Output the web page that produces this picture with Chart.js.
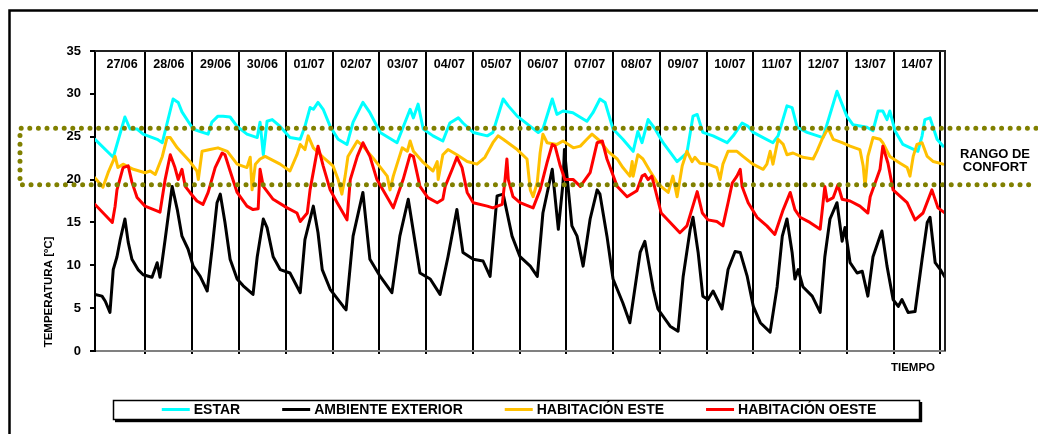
<!DOCTYPE html>
<html><head><meta charset="utf-8">
<script src="https://cdn.jsdelivr.net/npm/chart.js@4/dist/chart.umd.min.js"></script>
<style>html,body{margin:0;padding:0;background:#fff;overflow:hidden}</style>
</head><body>
<canvas id="c" width="1038" height="434"></canvas>
<script>
const DAY_LABELS = ['27/06','28/06','29/06','30/06','01/07','02/07','03/07','04/07','05/07','06/07','07/07','08/07','09/07','10/07','11/07','12/07','13/07','14/07'];
const Y_MIN = 0, Y_MAX = 35, Y_STEP = 5;
const T_MIN = -0.08, T_MAX = 18.1;
const COMFORT_MAX = 26, COMFORT_MIN = 19.4;
const COMFORT_LABEL = ['RANGO DE', 'CONFORT'];
const Y_TITLE = 'TEMPERATURA [ºC]';
const X_TITLE = 'TIEMPO';

const SERIES_NAMES = ['ESTAR', 'AMBIENTE EXTERIOR', 'HABITACIÓN ESTE', 'HABITACIÓN OESTE'];

const ESTAR_T = [-0.08,0.31,0.56,0.67,0.82,0.95,1.25,1.36,1.59,1.70,1.78,1.91,2.02,2.17,2.34,2.42,2.55,2.66,2.81,2.96,3.17,3.39,3.45,3.52,3.60,3.71,3.88,4.09,4.31,4.41,4.52,4.59,4.69,4.80,4.95,5.12,5.31,5.44,5.65,5.80,6.02,6.38,6.66,6.73,6.83,6.94,7.15,7.36,7.51,7.69,7.79,8.01,8.31,8.43,8.65,8.76,8.95,9.23,9.40,9.50,9.70,9.80,9.93,10.14,10.44,10.57,10.72,10.83,11.00,11.21,11.43,11.53,11.62,11.75,11.90,12.07,12.37,12.58,12.71,12.80,12.92,13.14,13.44,13.57,13.76,13.89,14.00,14.21,14.42,14.53,14.72,14.83,14.94,15.15,15.49,15.79,16.00,16.13,16.43,16.56,16.67,16.77,16.86,16.92,17.03,17.20,17.52,17.61,17.67,17.78,17.93,18.06];
const ESTAR_V = [24.7,22.6,27.3,25.9,25.9,25.3,24.7,24.3,29.4,29.0,27.9,26.8,25.9,25.6,25.3,26.7,27.4,27.4,27.3,26.2,25.3,24.9,26.7,22.9,26.8,27.0,26.2,24.9,24.7,26.2,28.4,28.2,29.0,28.2,26.2,24.7,24.1,26.7,29.0,27.8,25.5,24.3,28.2,27.2,28.8,25.9,25.1,24.5,26.6,27.2,26.6,25.5,25.1,25.5,29.4,28.6,27.4,26.2,25.5,25.9,29.4,27.6,28.0,27.8,26.8,27.8,29.4,29.0,25.9,24.7,23.3,25.6,24.3,27.0,25.9,24.3,22.1,23.1,27.4,27.6,25.5,25.1,24.3,25.1,26.6,26.2,25.5,24.9,24.3,25.1,28.6,28.4,26.1,25.5,24.9,30.3,27.4,26.4,26.1,25.7,28.0,28.0,27.0,28.0,25.7,24.1,23.3,25.1,27.0,27.2,24.7,23.9];

const EXTERIOR_T = [-0.08,0.07,0.14,0.24,0.31,0.39,0.46,0.56,0.63,0.71,0.84,0.95,1.14,1.25,1.31,1.42,1.57,1.68,1.78,1.91,2.02,2.17,2.32,2.43,2.53,2.60,2.70,2.81,2.96,3.09,3.30,3.39,3.52,3.60,3.73,3.88,4.09,4.31,4.41,4.59,4.69,4.78,4.95,5.23,5.29,5.44,5.65,5.80,6.02,6.27,6.44,6.62,6.87,7.09,7.30,7.47,7.66,7.79,8.01,8.22,8.37,8.52,8.65,8.84,9.01,9.23,9.38,9.50,9.70,9.83,9.93,9.96,10.12,10.23,10.36,10.51,10.66,10.72,10.87,11.00,11.21,11.36,11.58,11.68,11.86,11.96,12.22,12.39,12.50,12.65,12.71,12.82,12.92,13.03,13.14,13.33,13.46,13.61,13.72,13.87,14.00,14.15,14.36,14.51,14.62,14.72,14.83,14.89,14.96,15.06,15.26,15.43,15.53,15.64,15.79,15.90,15.96,16.07,16.22,16.33,16.45,16.56,16.71,16.75,16.86,16.99,17.10,17.18,17.31,17.46,17.61,17.72,17.78,17.89,18.00,18.10];
const EXTERIOR_V = [6.6,6.4,5.8,4.5,9.5,11.0,13.0,15.4,12.7,10.7,9.5,8.9,8.6,10.3,8.6,13.0,19.2,16.5,13.4,11.9,9.9,8.7,7.0,12.2,17.3,18.3,15.0,10.7,8.4,7.6,6.6,11.0,15.4,14.4,11.0,9.5,9.1,6.8,13.0,16.9,13.8,9.5,7.2,5.2,4.8,13.4,18.5,10.7,8.7,6.8,13.4,17.7,9.1,8.4,6.6,11.0,16.5,11.5,10.7,10.5,8.7,18.1,18.3,13.4,11.0,9.9,8.7,16.1,21.2,14.2,19.6,23.5,14.6,13.4,9.9,15.4,18.8,18.3,13.4,8.4,5.6,3.3,11.5,12.8,7.2,4.9,2.9,2.3,8.7,14.2,15.6,11.5,6.4,6.0,7.0,4.9,9.5,11.6,11.5,8.7,5.2,3.3,2.2,7.5,13.4,15.4,11.5,8.4,9.5,7.5,6.4,4.5,11.0,15.4,17.3,12.8,14.4,10.3,9.1,9.3,6.4,11.0,13.4,14.0,9.9,6.0,5.2,6.0,4.5,4.6,10.7,15.0,15.6,10.3,9.5,8.6];

const ESTE_T = [-0.08,0.09,0.20,0.35,0.41,0.52,0.74,0.99,1.10,1.21,1.36,1.46,1.53,1.68,1.95,2.10,2.13,2.21,2.38,2.55,2.75,2.96,3.17,3.24,3.28,3.35,3.45,3.56,3.88,4.09,4.24,4.31,4.41,4.48,4.59,4.80,5.01,5.12,5.20,5.27,5.33,5.53,5.65,5.87,6.17,6.23,6.30,6.49,6.60,6.66,6.73,6.94,7.15,7.24,7.26,7.36,7.47,7.66,7.88,8.09,8.26,8.43,8.54,8.65,8.95,9.16,9.23,9.29,9.38,9.44,9.50,9.59,9.80,9.93,10.15,10.30,10.44,10.55,10.72,10.89,11.09,11.21,11.36,11.41,11.43,11.53,11.64,11.79,11.96,12.18,12.28,12.37,12.48,12.58,12.69,12.75,12.86,13.03,13.22,13.29,13.35,13.46,13.65,13.78,13.99,14.21,14.29,14.36,14.42,14.53,14.64,14.72,14.85,15.06,15.28,15.36,15.47,15.60,15.71,15.90,16.07,16.28,16.35,16.39,16.45,16.56,16.71,16.77,16.92,17.14,17.29,17.35,17.42,17.50,17.61,17.72,17.85,18.06];
const ESTE_V = [20.2,19.1,20.8,22.7,21.4,21.8,21.2,20.8,21.0,20.6,22.7,24.9,24.9,23.7,22.1,21.0,20.0,23.3,23.5,23.7,23.3,21.8,21.4,22.6,18.8,21.8,22.4,22.7,21.8,21.0,22.9,24.1,23.5,25.1,23.7,22.6,21.6,20.0,18.3,20.4,22.7,24.5,23.9,22.5,20.4,18.8,20.4,23.7,23.3,24.5,23.3,22.0,21.0,22.1,20.0,22.9,23.5,22.9,22.1,21.8,22.6,24.3,25.1,24.7,23.5,22.4,18.8,18.0,19.7,23.1,25.3,24.3,24.1,24.5,23.7,23.9,24.7,25.3,24.5,23.3,22.4,21.4,20.4,22.1,20.4,22.9,22.4,21.0,19.5,18.5,20.4,18.0,21.6,23.3,22.1,22.6,21.9,21.8,21.4,20.0,21.8,23.3,23.3,22.7,21.8,21.2,21.8,23.3,21.8,24.7,24.1,22.9,23.1,22.6,22.4,23.3,24.7,26.0,24.7,24.3,23.9,23.5,21.6,19.2,22.7,24.9,24.7,24.3,22.7,21.9,21.4,20.4,22.7,24.1,24.3,22.7,22.1,21.8];

const OESTE_T = [-0.08,0.29,0.35,0.39,0.52,0.63,0.71,0.82,0.99,1.27,1.31,1.42,1.53,1.63,1.70,1.78,1.85,1.95,2.10,2.23,2.34,2.49,2.64,2.70,2.81,2.96,3.17,3.30,3.41,3.45,3.52,3.73,4.03,4.24,4.31,4.46,4.52,4.69,4.80,4.95,5.10,5.31,5.38,5.53,5.65,5.80,5.95,6.30,6.51,6.66,6.73,6.87,7.04,7.24,7.36,7.41,7.56,7.66,7.77,7.88,8.01,8.31,8.43,8.63,8.69,8.73,8.76,8.86,9.01,9.29,9.44,9.59,9.70,9.76,9.87,9.97,10.15,10.30,10.51,10.66,10.77,10.87,11.09,11.30,11.51,11.62,11.68,11.75,11.83,12.03,12.43,12.58,12.80,12.91,13.03,13.22,13.35,13.46,13.55,13.65,13.72,13.76,13.89,14.08,14.29,14.46,14.64,14.79,14.89,15.00,15.21,15.43,15.53,15.58,15.71,15.81,15.90,16.07,16.28,16.45,16.50,16.71,16.77,16.88,16.99,17.29,17.46,17.63,17.82,17.95,18.10];
const OESTE_V = [17.1,15.0,16.9,18.8,21.4,21.6,19.7,17.9,16.9,16.3,16.2,20.0,22.9,21.4,20.0,21.2,19.2,18.5,17.5,17.1,18.5,21.4,23.1,22.9,21.0,18.5,16.9,16.5,16.6,21.2,19.2,17.7,16.7,16.1,15.1,16.1,18.8,23.9,21.6,18.8,17.3,15.3,20.0,22.7,24.3,22.7,20.0,16.7,20.0,22.9,22.7,19.2,17.9,17.3,17.7,19.2,21.2,22.6,21.4,18.5,17.3,16.9,16.7,17.1,20.0,22.4,20.0,18.0,17.3,16.7,18.8,22.0,24.1,23.9,21.6,20.0,20.0,19.2,20.8,24.3,24.5,22.4,19.2,18.0,18.7,20.4,20.6,20.0,20.4,16.1,13.8,14.6,18.6,16.1,15.3,15.1,14.6,17.3,19.6,20.4,21.2,19.2,17.3,15.6,14.6,13.6,16.5,18.5,16.5,15.6,15.0,14.2,19.2,17.5,17.9,19.4,17.7,17.5,16.9,16.1,18.0,21.2,23.9,21.9,18.8,17.3,15.3,16.1,18.8,16.7,16.1];

const COLORS = ['#00FFFF', '#000000', '#FFC000', '#FF0000'];
const FONT = '"Liberation Sans", Arial, Helvetica, sans-serif';

function pts(T, V) { return T.map((t, i) => ({ x: t, y: V[i] })); }

const decor = {
  id: 'decor',
  beforeDraw(chart) {
    const c = chart.ctx; c.save(); c.fillStyle = '#fff'; c.fillRect(0, 0, chart.width, chart.height); c.restore();
  },
  afterDatasetsDraw(chart) {
    const c = chart.ctx, a = chart.chartArea, y = chart.scales.y;
    c.save();
    const yT = y.getPixelForValue(COMFORT_MAX), yB = y.getPixelForValue(COMFORT_MIN);
    c.strokeStyle = '#808000'; c.lineWidth = 5; c.lineCap = 'round'; c.setLineDash([0, 8.6]);
    c.beginPath(); c.moveTo(1036, yT); c.lineTo(20, yT); c.lineTo(20, yB); c.lineTo(1036, yB); c.stroke();
    c.restore();
  },
  afterDraw(chart) {
    const c = chart.ctx, a = chart.chartArea, x = chart.scales.x, y = chart.scales.y;
    c.save();
    // outer frame
    c.strokeStyle = '#000'; c.lineWidth = 2.5;
    c.beginPath(); c.moveTo(9.5, chart.height); c.lineTo(9.5, 10.5); c.lineTo(chart.width, 10.5); c.stroke();
    // plot frame top/right
    c.lineWidth = 2; c.strokeStyle = '#222';
    c.beginPath(); c.moveTo(a.left, a.top); c.lineTo(a.right, a.top); c.lineTo(a.right, a.bottom); c.stroke();
    // day labels
    c.fillStyle = '#000'; c.textAlign = 'center'; c.textBaseline = 'middle';
    c.font = 'bold 12.5px ' + FONT;
    DAY_LABELS.forEach((lab, i) => {
      const px = Math.max(x.getPixelForValue(i + 0.5), a.left + 24);
      c.fillText(lab, px, a.top + 14);
    });
    // comfort label
    c.font = 'bold 13px ' + FONT;
    c.fillText(COMFORT_LABEL[0], 995, 154);
    c.fillText(COMFORT_LABEL[1], 995, 167.5);
    // axis titles
    c.font = 'bold 11.5px ' + FONT;
    c.fillText(X_TITLE, 913, 368);
    c.save(); c.translate(48.5, 292); c.rotate(-Math.PI / 2); c.fillText(Y_TITLE, 0, 0); c.restore();
    // legend
    c.strokeStyle = '#000'; c.lineWidth = 1.5;
    c.strokeRect(113.5, 400.5, 806, 19);
    c.fillStyle = '#000';
    c.fillRect(115, 420, 807, 2.2); c.fillRect(920, 402, 2.2, 20);
    c.font = 'bold 14px ' + FONT; c.textAlign = 'left';
    const LINE = 28, GT = 4, GAP = 42;
    const ds = chart.data.datasets;
    const w = ds.map(d => LINE + GT + c.measureText(d.label).width);
    const total = w.reduce((s, v) => s + v, 0) + GAP * (ds.length - 1);
    let xx = chart.width / 2 - total / 2;
    ds.forEach((d, i) => {
      c.strokeStyle = d.borderColor; c.lineWidth = 3; c.lineCap = 'butt';
      c.beginPath(); c.moveTo(xx, 409.5); c.lineTo(xx + LINE, 409.5); c.stroke();
      c.fillStyle = '#000'; c.fillText(d.label, xx + LINE + GT, 410);
      xx += w[i] + GAP;
    });
    c.restore();
  }
};

new Chart(document.getElementById('c'), {
  type: 'line',
  data: {
    datasets: [
      { label: SERIES_NAMES[0], data: pts(ESTAR_T, ESTAR_V), borderColor: COLORS[0], order: 3 },
      { label: SERIES_NAMES[1], data: pts(EXTERIOR_T, EXTERIOR_V), borderColor: COLORS[1], order: 2 },
      { label: SERIES_NAMES[2], data: pts(ESTE_T, ESTE_V), borderColor: COLORS[2], order: 1 },
      { label: SERIES_NAMES[3], data: pts(OESTE_T, OESTE_V), borderColor: COLORS[3], order: 0 }
    ]
  },
  options: {
    responsive: false,
    animation: false,
    devicePixelRatio: 1,
    layout: { padding: { left: 0, top: 51, right: 93, bottom: 0 } },
    elements: {
      line: { borderWidth: 3, tension: 0, borderJoinStyle: 'round', borderCapStyle: 'round', fill: false },
      point: { radius: 0, hoverRadius: 0 }
    },
    plugins: { legend: { display: false }, tooltip: { enabled: false }, title: { display: false } },
    scales: {
      x: {
        type: 'linear', min: T_MIN, max: T_MAX, z: 1,
        afterBuildTicks: s => { s.ticks = DAY_LABELS.map((_, i) => ({ value: i + 1 })); },
        afterFit: s => { s.height = 83; },
        ticks: { display: false },
        grid: { display: true, color: '#000', lineWidth: 2, drawTicks: true, tickLength: 3, drawOnChartArea: true },
        border: { display: true, color: '#808080', width: 2 }
      },
      y: {
        min: Y_MIN, max: Y_MAX,
        afterFit: s => { s.width = 95; },
        ticks: { stepSize: Y_STEP, color: '#000', padding: 9, font: { family: FONT, size: 13, weight: 'bold' } },
        grid: { drawOnChartArea: false, drawTicks: true, tickLength: 5, color: '#000', lineWidth: 2 },
        border: { display: true, color: '#000', width: 2 }
      }
    }
  },
  plugins: [decor]
});
</script>
</body></html>
